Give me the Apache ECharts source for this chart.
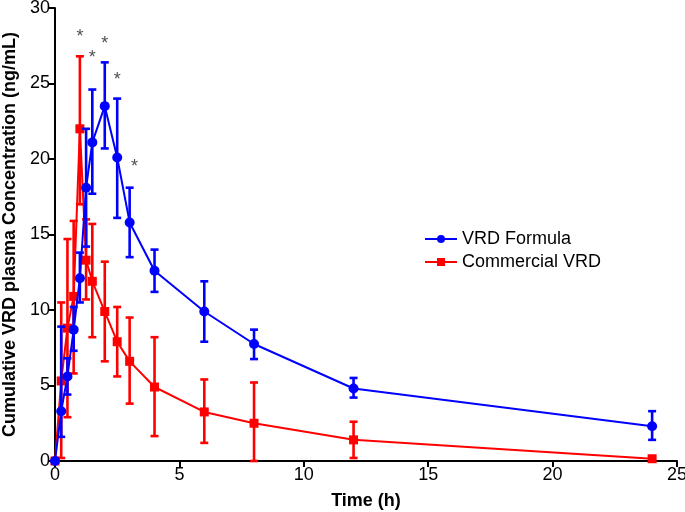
<!DOCTYPE html>
<html>
<head>
<meta charset="utf-8">
<script src="https://cdn.jsdelivr.net/npm/echarts@6/dist/echarts.min.js"></script>
<style>
html,body{margin:0;padding:0;background:#fff;}
#chart{width:685px;height:512px;}
</style>
</head>
<body>
<div id="chart"></div>
<script>
// ---- data ----
const times = [0, 0.25, 0.5, 0.75, 1, 1.25, 1.5, 2, 2.5, 3, 4, 6, 8, 12, 24];
const formulaMean = [0, 3.3, 5.6, 8.7, 12.1, 18.1, 21.1, 23.5, 20.1, 15.8, 12.6, 9.9, 7.75, 4.8, 2.3];
const formulaHigh = [0, 8.9, 6.8, 10.2, 13.8, 22.0, 24.6, 26.4, 24.0, 18.1, 14.0, 11.9, 8.7, 5.5, 3.3];
const formulaLow  = [0, 1.6, 4.4, 7.3, 10.5, 14.2, 17.7, 20.7, 16.1, 13.5, 11.2, 7.9, 6.75, 4.2, 1.4];
const commercialMean = [0, 5.3, 8.8, 10.9, 22.0, 13.3, 11.9, 9.9, 7.9, 6.6, 4.9, 3.25, 2.5, 1.4, 0.15];
const commercialHigh = [0, 10.5, 14.7, 15.9, 26.8, 16.0, 15.7, 13.2, 10.2, 9.5, 8.2, 5.4, 5.2, 2.6, 0.15];
const commercialLow  = [0, 0.2, 2.9, 5.8, 17.0, 10.7, 8.2, 6.6, 5.6, 3.8, 1.65, 1.2, 0, 0.2, 0.15];
const starTimes = [1, 1.5, 2, 2.5, 3.2];
const starLevels = [28.1, 26.7, 27.6, 25.2, 19.5];
const seriesNames = ['VRD Formula', 'Commercial VRD'];
const xTicks = [0, 5, 10, 15, 20, 25];
const yTicks = [0, 5, 10, 15, 20, 25, 30];

const BLUE = '#0000ff', RED = '#ff0000';
const font = 'Liberation Sans, Arial, sans-serif';

function errData(mean, lo, hi) {
  return times.map((t, i) => [t, lo[i], hi[i]]).filter(d => d[2] - d[1] > 0.01);
}
function errRender(color) {
  return function (params, api) {
    const x = api.value(0), lo = api.value(1), hi = api.value(2);
    const a = api.coord([x, hi]), b = api.coord([x, lo]);
    const w = 4;
    const st = { stroke: color, lineWidth: 2.6 };
    return {
      type: 'group',
      children: [
        { type: 'line', shape: { x1: a[0], y1: a[1], x2: b[0], y2: b[1] }, style: st },
        { type: 'line', shape: { x1: a[0] - w, y1: a[1], x2: a[0] + w, y2: a[1] }, style: st },
        { type: 'line', shape: { x1: b[0] - w, y1: b[1], x2: b[0] + w, y2: b[1] }, style: st }
      ]
    };
  };
}

const chart = echarts.init(document.getElementById('chart'), null, { renderer: 'canvas' });
chart.setOption({
  backgroundColor: '#fff',
  animation: false,
  grid: { left: 55, right: 8, top: 8, bottom: 51, containLabel: false, outerBoundsMode: 'none' },
  legend: {
    data: seriesNames,
    left: 419, top: 225, orient: 'vertical',
    itemWidth: 32, itemHeight: 10, itemGap: 5,
    textStyle: { fontFamily: font, fontSize: 18, color: '#000' }
  },
  xAxis: {
    type: 'value', min: 0, max: 25, interval: 5,
    name: 'Time (h)', nameLocation: 'middle', nameGap: 31,
    nameTextStyle: { fontFamily: font, fontSize: 18, fontWeight: 'bold', color: '#000' },
    axisLine: { lineStyle: { color: '#000', width: 2 } },
    axisTick: { show: true, length: 6, lineStyle: { color: '#000', width: 2 } },
    axisLabel: { fontFamily: font, fontSize: 18, color: '#000', margin: 5,
      formatter: v => xTicks.includes(v) ? String(v) : '' },
    splitLine: { show: false }
  },
  yAxis: {
    type: 'value', min: 0, max: 30, interval: 5,
    name: 'Cumulative VRD plasma Concentration (ng/mL)', nameLocation: 'middle', nameGap: 32,
    nameTextStyle: { fontFamily: font, fontSize: 18, fontWeight: 'bold', color: '#000' },
    axisLine: { show: true, lineStyle: { color: '#000', width: 2 } },
    axisTick: { show: true, length: 6, lineStyle: { color: '#000', width: 2 } },
    axisLabel: { fontFamily: font, fontSize: 18, color: '#000', margin: 5,
      formatter: v => yTicks.includes(v) ? String(v) : '' },
    splitLine: { show: false }
  },
  series: [
    {
      type: 'custom', name: 'cErr', renderItem: errRender(RED),
      data: errData(commercialMean, commercialLow, commercialHigh), z: 2, silent: true
    },
    {
      type: 'line', name: seriesNames[1],
      data: times.map((t, i) => [t, commercialMean[i]]),
      symbol: 'rect', symbolSize: 9, color: RED,
      lineStyle: { color: RED, width: 2 }, itemStyle: { color: RED }, z: 3
    },
    {
      type: 'custom', name: 'fErr', renderItem: errRender(BLUE),
      data: errData(formulaMean, formulaLow, formulaHigh), z: 4, silent: true
    },
    {
      type: 'line', name: seriesNames[0],
      data: times.map((t, i) => [t, formulaMean[i]]),
      symbol: 'circle', symbolSize: 10, color: BLUE,
      lineStyle: { color: BLUE, width: 2 }, itemStyle: { color: BLUE }, z: 5
    },
    {
      type: 'scatter', name: 'stars', symbolSize: 1, itemStyle: { color: 'rgba(0,0,0,0)' },
      data: starTimes.map((t, i) => [t, starLevels[i]]), silent: true, z: 6,
      label: { show: true, position: 'inside', formatter: '*', fontFamily: font, fontSize: 18, color: '#222' }
    }
  ]
});
</script>
</body>
</html>
